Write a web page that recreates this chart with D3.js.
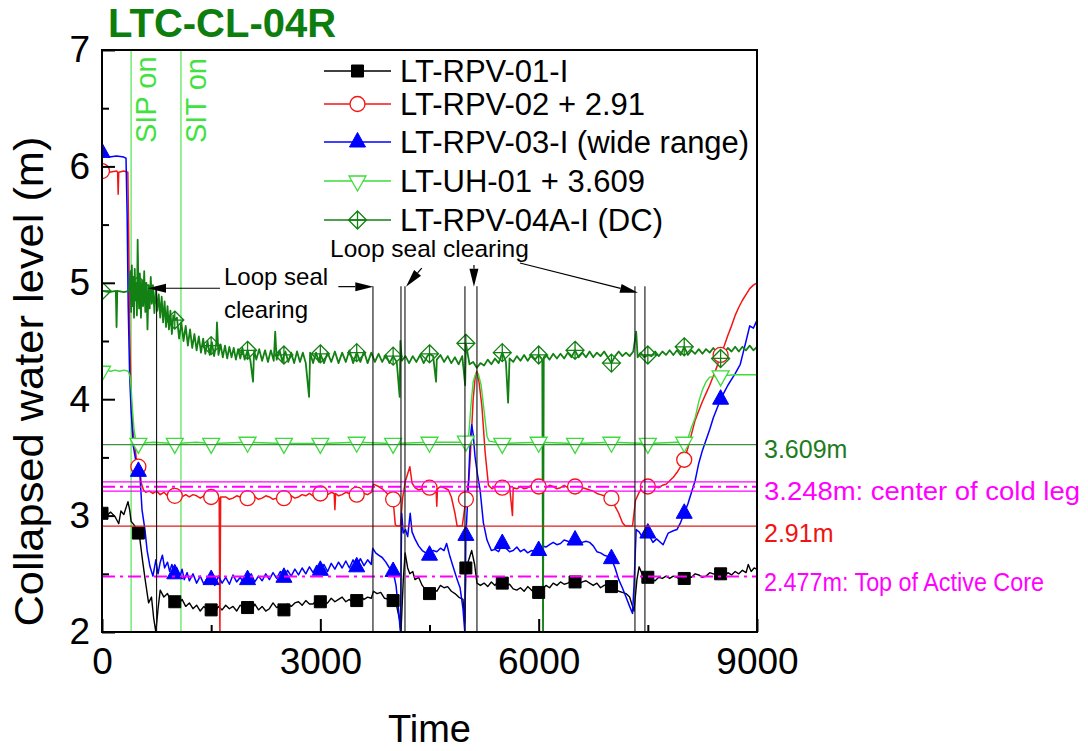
<!DOCTYPE html>
<html>
<head>
<meta charset="utf-8">
<script src="https://cdn.jsdelivr.net/npm/d3@7"></script>
<style>
  body { margin: 0; background: #fff; }
  text { font-family: "Liberation Sans", Arial, sans-serif; }
</style>
</head>
<body>
<svg id="chart" width="1088" height="751"></svg>
<script>
// ---- data: [time (s), collapsed water level (m)] ----
const rpv01 = [[0,3.02],[60,3.00],[120,3.03],[180,2.99],[230,2.93],[260,3.04],[300,3.01],[357,3.12],[380,3.05],[400,2.95],[440,2.92],[480,2.88],[500,2.85],[520,2.80],[560,2.60],[600,2.42],[640,2.25],[680,2.30],[710,2.12],[740,2.00],[770,2.20],[800,2.36],[850,2.30],[900,2.33],[950,2.26],[1000,2.26],[1050,2.24],[1100,2.28],[1150,2.22],[1200,2.25],[1250,2.20],[1300,2.23],[1350,2.18],[1400,2.22],[1450,2.19],[1500,2.19],[1550,2.17],[1600,2.22],[1650,2.19],[1700,2.23],[1750,2.20],[1800,2.22],[1850,2.18],[1900,2.23],[1950,2.21],[2000,2.21],[2050,2.18],[2100,2.24],[2150,2.19],[2200,2.22],[2250,2.18],[2300,2.20],[2350,2.25],[2400,2.21],[2450,2.23],[2500,2.19],[2550,2.24],[2600,2.22],[2650,2.25],[2700,2.26],[2750,2.23],[2800,2.27],[2850,2.24],[2900,2.24],[2950,2.28],[3000,2.26],[3050,2.23],[3100,2.25],[3150,2.29],[3200,2.26],[3250,2.28],[3300,2.30],[3350,2.26],[3400,2.28],[3450,2.25],[3500,2.27],[3550,2.31],[3600,2.28],[3650,2.30],[3700,2.29],[3730,2.35],[3780,2.33],[3830,2.34],[3880,2.29],[3950,2.28],[4000,2.27],[4050,2.22],[4090,2.10],[4108,2.00],[4140,2.45],[4165,2.68],[4200,2.55],[4230,2.50],[4270,2.52],[4300,2.45],[4350,2.47],[4400,2.40],[4450,2.36],[4500,2.33],[4550,2.37],[4600,2.35],[4650,2.40],[4700,2.38],[4750,2.39],[4800,2.35],[4850,2.33],[4900,2.30],[4960,2.28],[4985,2.08],[5000,2.55],[5040,2.62],[5080,2.70],[5120,2.58],[5152,2.42],[5200,2.40],[5250,2.42],[5300,2.39],[5350,2.43],[5400,2.40],[5450,2.44],[5500,2.42],[5550,2.40],[5600,2.41],[5650,2.37],[5700,2.36],[5750,2.38],[5800,2.35],[5850,2.39],[5900,2.36],[5950,2.33],[6000,2.34],[6050,2.37],[6100,2.40],[6150,2.38],[6200,2.42],[6250,2.40],[6300,2.43],[6350,2.41],[6400,2.42],[6450,2.44],[6500,2.43],[6550,2.41],[6600,2.43],[6650,2.44],[6700,2.42],[6750,2.40],[6800,2.42],[6850,2.38],[6900,2.40],[6950,2.41],[7000,2.39],[7050,2.37],[7100,2.35],[7150,2.34],[7200,2.33],[7250,2.30],[7290,2.22],[7310,2.18],[7350,2.45],[7380,2.56],[7420,2.50],[7460,2.48],[7500,2.47],[7550,2.45],[7600,2.44],[7650,2.47],[7700,2.46],[7750,2.48],[7800,2.46],[7850,2.48],[7900,2.47],[7950,2.45],[8000,2.46],[8050,2.48],[8100,2.47],[8150,2.50],[8200,2.49],[8250,2.47],[8300,2.48],[8350,2.51],[8400,2.50],[8450,2.49],[8500,2.50],[8550,2.48],[8600,2.51],[8650,2.49],[8700,2.52],[8750,2.50],[8800,2.53],[8850,2.51],[8880,2.58],[8920,2.52],[8960,2.55],[9000,2.54]];

const rpv02 = [[0,5.96],[100,5.95],[200,5.96],[215,5.95],[222,5.76],[230,5.95],[300,5.96],[355,5.95],[365,5.50],[380,4.60],[400,4.00],[430,3.70],[470,3.50],[500,3.42],[520,3.40],[540,3.28],[570,3.22],[600,3.20],[650,3.21],[700,3.19],[750,3.21],[800,3.18],[850,3.20],[900,3.17],[950,3.19],[1000,3.17],[1050,3.18],[1100,3.16],[1150,3.18],[1200,3.16],[1250,3.18],[1300,3.17],[1350,3.15],[1400,3.17],[1450,3.15],[1500,3.16],[1560,3.17],[1610,3.15],[1620,2.00],[1630,3.16],[1700,3.16],[1750,3.14],[1800,3.15],[1850,3.17],[1900,3.16],[1950,3.14],[2000,3.15],[2050,3.17],[2100,3.16],[2150,3.14],[2200,3.15],[2250,3.17],[2300,3.16],[2350,3.14],[2400,3.15],[2450,3.17],[2500,3.15],[2550,3.16],[2600,3.17],[2650,3.15],[2700,3.16],[2750,3.18],[2800,3.17],[2850,3.19],[2900,3.17],[2950,3.18],[3000,3.19],[3050,3.17],[3100,3.18],[3150,3.20],[3190,3.19],[3200,3.05],[3210,3.19],[3250,3.17],[3300,3.18],[3350,3.20],[3400,3.19],[3450,3.17],[3500,3.18],[3550,3.20],[3600,3.19],[3650,3.18],[3700,3.20],[3730,3.27],[3800,3.25],[3850,3.23],[3900,3.20],[3950,3.17],[4000,3.14],[4030,2.92],[4060,2.91],[4100,2.91],[4130,3.15],[4170,3.30],[4230,3.42],[4260,3.28],[4300,3.24],[4350,3.22],[4400,3.23],[4450,3.25],[4500,3.24],[4550,3.22],[4590,3.23],[4600,3.08],[4610,3.23],[4650,3.25],[4700,3.24],[4760,3.22],[4800,3.16],[4850,3.02],[4880,2.91],[4950,2.91],[5000,3.14],[5040,3.30],[5060,3.50],[5100,4.00],[5130,4.20],[5150,4.24],[5180,4.15],[5220,3.94],[5265,3.54],[5310,3.26],[5360,3.23],[5400,3.25],[5450,3.23],[5500,3.24],[5550,3.22],[5600,3.25],[5640,3.00],[5650,3.24],[5700,3.23],[5750,3.25],[5800,3.23],[5850,3.24],[5900,3.26],[5950,3.24],[6000,3.25],[6050,3.23],[6100,3.24],[6150,3.26],[6200,3.25],[6250,3.23],[6300,3.24],[6350,3.26],[6400,3.24],[6450,3.25],[6500,3.25],[6550,3.23],[6600,3.24],[6650,3.23],[6700,3.22],[6750,3.21],[6800,3.19],[6850,3.18],[6900,3.17],[7000,3.15],[7050,3.08],[7100,3.02],[7150,2.94],[7190,2.91],[7290,2.91],[7330,3.13],[7380,3.20],[7420,3.24],[7460,3.23],[7500,3.25],[7550,3.24],[7600,3.25],[7650,3.24],[7700,3.26],[7750,3.27],[7800,3.30],[7850,3.33],[7900,3.37],[7950,3.42],[8000,3.48],[8050,3.58],[8100,3.70],[8150,3.82],[8200,3.90],[8250,3.98],[8300,4.05],[8350,4.12],[8400,4.20],[8450,4.28],[8500,4.38],[8550,4.46],[8600,4.55],[8650,4.63],[8700,4.72],[8750,4.79],[8800,4.85],[8850,4.90],[8900,4.95],[8950,4.98],[9000,5.00]];

const rpv03 = [[0,6.12],[100,6.08],[200,6.09],[300,6.08],[330,6.07],[345,5.60],[360,4.80],[380,4.20],[400,3.90],[430,3.60],[470,3.45],[500,3.38],[520,3.36],[550,3.05],[590,2.88],[620,2.70],[660,2.56],[700,2.48],[740,2.62],[770,2.50],[800,2.60],[830,2.66],[860,2.55],[900,2.60],[930,2.52],[960,2.58],[1000,2.50],[1030,2.55],[1070,2.47],[1100,2.54],[1130,2.45],[1170,2.51],[1200,2.44],[1250,2.50],[1300,2.42],[1350,2.48],[1400,2.41],[1450,2.47],[1500,2.45],[1550,2.40],[1600,2.48],[1650,2.42],[1700,2.47],[1750,2.41],[1800,2.49],[1850,2.43],[1900,2.47],[1950,2.42],[2000,2.45],[2050,2.50],[2100,2.43],[2150,2.48],[2200,2.44],[2250,2.50],[2300,2.45],[2350,2.51],[2400,2.46],[2450,2.52],[2500,2.47],[2550,2.53],[2600,2.48],[2650,2.54],[2700,2.49],[2750,2.55],[2800,2.50],[2850,2.56],[2900,2.51],[2950,2.57],[3000,2.53],[3050,2.58],[3100,2.52],[3150,2.59],[3200,2.54],[3250,2.60],[3300,2.55],[3350,2.61],[3400,2.55],[3450,2.62],[3500,2.56],[3550,2.63],[3600,2.57],[3650,2.62],[3700,2.58],[3720,2.72],[3760,2.68],[3800,2.66],[3850,2.64],[3900,2.60],[3950,2.55],[4000,2.52],[4040,2.40],[4080,2.15],[4100,2.00],[4118,3.02],[4140,2.85],[4170,2.88],[4200,2.82],[4235,3.02],[4260,2.86],[4300,2.80],[4350,2.74],[4400,2.70],[4450,2.68],[4500,2.66],[4550,2.70],[4600,2.69],[4650,2.72],[4700,2.70],[4735,2.76],[4780,2.65],[4830,2.55],[4880,2.45],[4920,2.38],[4960,2.20],[4985,2.00],[5000,2.83],[5030,3.20],[5060,3.65],[5080,3.78],[5100,3.70],[5125,3.51],[5160,3.35],[5195,3.22],[5240,2.94],[5290,2.79],[5350,2.70],[5400,2.71],[5450,2.69],[5500,2.76],[5550,2.72],[5600,2.69],[5650,2.70],[5700,2.73],[5750,2.69],[5800,2.71],[5850,2.68],[5900,2.70],[5950,2.69],[6000,2.70],[6050,2.74],[6100,2.73],[6150,2.75],[6200,2.77],[6250,2.75],[6300,2.76],[6350,2.79],[6400,2.78],[6450,2.76],[6500,2.79],[6550,2.78],[6600,2.77],[6650,2.78],[6700,2.77],[6750,2.74],[6800,2.69],[6850,2.68],[6900,2.66],[6950,2.65],[7000,2.63],[7050,2.55],[7100,2.45],[7150,2.38],[7200,2.30],[7250,2.22],[7290,2.16],[7310,2.40],[7340,2.88],[7380,2.86],[7420,2.82],[7460,2.87],[7500,2.85],[7570,2.77],[7620,2.80],[7710,2.75],[7780,2.85],[7850,2.87],[7900,2.88],[7950,2.94],[8000,3.02],[8050,3.10],[8100,3.20],[8150,3.30],[8200,3.45],[8250,3.56],[8300,3.65],[8350,3.74],[8400,3.84],[8450,3.92],[8500,4.00],[8550,4.06],[8600,4.12],[8650,4.17],[8700,4.22],[8770,4.30],[8810,4.40],[8850,4.50],[8900,4.63],[8950,4.61],[9000,4.68]];

const uh01 = [[0,4.24],[60,4.25],[120,4.24],[180,4.25],[245,4.24],[300,4.25],[360,4.24],[385,4.20],[400,4.10],[420,3.90],[440,3.74],[460,3.66],[480,3.63],[500,3.62],[700,3.63],[1000,3.62],[1300,3.63],[1500,3.62],[2000,3.63],[2500,3.62],[3000,3.62],[3500,3.63],[4000,3.62],[4500,3.63],[4950,3.63],[5000,3.64],[5040,3.70],[5070,3.95],[5100,4.15],[5130,4.21],[5170,4.22],[5210,4.12],[5250,3.90],[5290,3.68],[5320,3.64],[5500,3.62],[6000,3.63],[6500,3.62],[7000,3.63],[7500,3.62],[7900,3.63],[8000,3.63],[8050,3.66],[8100,3.76],[8150,3.84],[8200,3.98],[8250,4.08],[8300,4.15],[8350,4.19],[8500,4.20],[8700,4.21],[9000,4.21]];

const rpv04a = [[0,4.93],[100,4.92],[190,4.93],[200,4.62],[210,4.93],[300,4.92],[370,4.93],[390,5.10],[400,4.75],[410,5.15],[420,4.80],[430,5.05],[440,4.70],[450,5.12],[460,4.85],[470,5.00],[480,4.72],[490,5.37],[500,4.98],[510,4.78],[520,5.08],[535,4.70],[550,5.02],[565,4.80],[580,5.10],[595,4.75],[610,5.00],[625,4.60],[640,4.98],[655,4.78],[670,5.05],[685,4.82],[700,4.98],[720,4.74],[740,4.95],[760,4.76],[780,4.90],[800,4.70],[820,4.88],[840,4.66],[860,4.84],[880,4.62],[900,4.80],[920,4.60],[940,4.76],[960,4.56],[980,4.72],[1000,4.68],[1030,4.70],[1060,4.52],[1090,4.66],[1120,4.50],[1150,4.63],[1180,4.46],[1210,4.60],[1240,4.44],[1270,4.56],[1300,4.42],[1330,4.54],[1360,4.40],[1390,4.52],[1420,4.39],[1450,4.50],[1480,4.38],[1500,4.46],[1510,4.49],[1540,4.37],[1570,4.48],[1580,4.66],[1600,4.38],[1630,4.47],[1660,4.36],[1690,4.46],[1720,4.35],[1750,4.45],[1780,4.36],[1810,4.44],[1840,4.34],[1870,4.43],[1900,4.35],[1930,4.44],[1960,4.34],[2000,4.42],[2040,4.33],[2075,4.15],[2090,4.42],[2120,4.34],[2160,4.43],[2200,4.33],[2240,4.42],[2280,4.32],[2320,4.42],[2360,4.33],[2380,4.58],[2400,4.34],[2440,4.42],[2480,4.32],[2500,4.38],[2520,4.41],[2560,4.32],[2600,4.40],[2640,4.31],[2680,4.41],[2720,4.32],[2760,4.40],[2800,4.31],[2845,4.02],[2860,4.40],[2900,4.31],[2940,4.40],[2980,4.32],[3000,4.39],[3050,4.31],[3100,4.40],[3150,4.32],[3200,4.41],[3250,4.31],[3300,4.40],[3350,4.32],[3400,4.42],[3450,4.31],[3500,4.40],[3550,4.32],[3600,4.41],[3650,4.31],[3700,4.40],[3750,4.32],[3800,4.39],[3850,4.32],[3900,4.38],[3950,4.31],[4000,4.37],[4050,4.32],[4090,4.02],[4100,4.50],[4120,4.33],[4170,4.37],[4220,4.31],[4270,4.37],[4320,4.32],[4370,4.38],[4420,4.31],[4470,4.37],[4500,4.39],[4550,4.37],[4590,4.15],[4600,4.34],[4650,4.38],[4700,4.32],[4750,4.37],[4800,4.31],[4850,4.36],[4900,4.30],[4950,4.37],[4990,4.12],[5000,4.48],[5050,4.30],[5100,4.32],[5150,4.27],[5200,4.31],[5250,4.29],[5300,4.34],[5350,4.30],[5400,4.35],[5450,4.31],[5500,4.40],[5550,4.32],[5580,3.97],[5600,4.35],[5650,4.32],[5700,4.37],[5750,4.33],[5800,4.38],[5850,4.33],[5900,4.38],[5950,4.34],[6000,4.38],[6050,4.34],[6060,2.00],[6070,4.36],[6100,4.38],[6150,4.34],[6200,4.39],[6250,4.35],[6300,4.39],[6350,4.35],[6400,4.40],[6450,4.36],[6500,4.42],[6550,4.36],[6600,4.40],[6650,4.36],[6700,4.41],[6750,4.36],[6800,4.40],[6850,4.37],[6900,4.41],[6950,4.36],[7000,4.31],[7050,4.37],[7100,4.41],[7150,4.37],[7200,4.40],[7250,4.37],[7300,4.41],[7340,4.58],[7360,4.36],[7400,4.40],[7450,4.36],[7500,4.38],[7550,4.37],[7600,4.41],[7650,4.37],[7700,4.41],[7750,4.38],[7800,4.42],[7850,4.38],[7900,4.42],[7950,4.38],[8000,4.45],[8050,4.38],[8100,4.42],[8150,4.39],[8200,4.43],[8250,4.39],[8300,4.43],[8350,4.40],[8400,4.44],[8450,4.40],[8500,4.35],[8550,4.40],[8600,4.44],[8650,4.41],[8700,4.45],[8750,4.41],[8800,4.45],[8850,4.42],[8900,4.46],[8950,4.42],[9000,4.45]];

const seriesNames = ["LT-RPV-01-I", "LT-RPV-02 + 2.91", "LT-RPV-03-I (wide range)", "LT-UH-01 + 3.609", "LT-RPV-04A-I (DC)"];
const markerTimes = [0,500,1000,1500,2000,2500,3000,3500,4000,4500,5000,5500,6000,6500,7000,7500,8000,8500];

// reference levels
const refLevels = [3.609, 3.248, 2.91, 2.477];
const coldLegBand = [3.29, 3.21];
const refLabels = ["3.609m", "3.248m: center of cold leg", "2.91m", "2.477m: Top of Active Core"];

// events
const injectionTimes = [400, 1085];
const injectionLabels = ["SIP on", "SIT on"];
const clearingTimes = [750, 3723, 4108, 4163, 4987, 5152, 7323, 7460];
const clearingTop = 4.97;
// arrows: [fromTime, fromLevel, toTime, toLevel]
const arrows = [[1622,4.953,632,4.953],[3248,4.967,3728,4.967],[4393,5.127,4177,4.966],[5111,5.153,5111,4.966],[5743,5.170,7365,4.915]];

const xTicks = [0, 3000, 6000, 9000];
const xMinorTicks = [1500, 4500, 7500];
const yTicks = [2, 3, 4, 5, 6, 7];
const yMinorTicks = [2.5, 3.5, 4.5, 5.5, 6.5];

// ---- setup ----
const svg = d3.select("#chart");
const pL = 102, pR = 757, pT = 50, pB = 632;
const x = d3.scaleLinear().domain([0, 9000]).range([pL, pR]);
const y = d3.scaleLinear().domain([2, 7]).range([pB, pT]);

const colors = ["#000000", "#f41414", "#0000ff", "#3ddc3d", "#138013"];
const markerTypes = ["square", "circle", "triUp", "triDown", "diamond"];
const magenta = "#ff00ff";

svg.append("defs").append("clipPath").attr("id", "plotclip")
  .append("rect").attr("x", pL).attr("y", pT).attr("width", pR - pL).attr("height", pB - pT);

function markerPath(type) {
  switch (type) {
    case "square": return "M-6,-6H6V6H-6Z";
    case "circle": return "M-7.5,0A7.5,7.5 0 1,0 7.5,0A7.5,7.5 0 1,0 -7.5,0Z";
    case "triUp": return "M0,-9.5L8,5L-8,5Z";
    case "triDown": return "M0,10L8.5,-5L-8.5,-5Z";
    case "diamond": return "M0,-9L9,0L0,9L-9,0ZM0,-9V9M-9,0H9";
  }
}
function markerStyle(sel, i) {
  const t = markerTypes[i];
  if (t === "square" || t === "triUp") sel.attr("fill", colors[i]).attr("stroke", colors[i]).attr("stroke-width", 1);
  else if (t === "circle" || t === "triDown") sel.attr("fill", "#fff").attr("stroke", colors[i]).attr("stroke-width", 1.3);
  else sel.attr("fill", "none").attr("stroke", colors[i]).attr("stroke-width", 1.3);
}

const bis = d3.bisector(d => d[0]).left;
function nearest(data, t) {
  const i = bis(data, t);
  if (i <= 0) return data[0];
  if (i >= data.length) return data[data.length - 1];
  return (t - data[i - 1][0] < data[i][0] - t) ? data[i - 1] : data[i];
}

const plot = svg.append("g").attr("clip-path", "url(#plotclip)");

// injection lines
plot.selectAll(".inj").data(injectionTimes).join("line")
  .attr("x1", d => x(d)).attr("x2", d => x(d)).attr("y1", pT).attr("y2", pB)
  .attr("stroke", "#5fe85f").attr("stroke-width", 1.3);

// series
const allSeries = [rpv01, rpv02, rpv03, uh01, rpv04a];
const seriesWidth = [1.4, 1.5, 1.5, 1.4, 1.8];
const line = d3.line().x(d => x(d[0])).y(d => y(d[1]));
allSeries.forEach((data, i) => {
  plot.append("path").datum(data)
    .attr("fill", "none").attr("stroke", colors[i]).attr("stroke-width", seriesWidth[i])
    .attr("stroke-linejoin", "round").attr("d", line);
});
allSeries.forEach((data, i) => {
  plot.append("g").selectAll("path").data(markerTimes.map(t => nearest(data, t))).join("path")
    .attr("transform", d => `translate(${x(d[0])},${y(d[1])})`)
    .attr("d", markerPath(markerTypes[i]))
    .call(markerStyle, i);
});

// reference lines
plot.append("line").attr("x1", pL).attr("x2", pR).attr("y1", y(refLevels[0])).attr("y2", y(refLevels[0]))
  .attr("stroke", "#3f8f3f").attr("stroke-width", 1.2);
plot.selectAll(".band").data(coldLegBand).join("line")
  .attr("x1", pL).attr("x2", pR).attr("y1", d => y(d)).attr("y2", d => y(d))
  .attr("stroke", magenta).attr("stroke-width", 1.1);
plot.append("line").attr("x1", pL).attr("x2", pR).attr("y1", y(refLevels[1])).attr("y2", y(refLevels[1]))
  .attr("stroke", magenta).attr("stroke-width", 2.2).attr("stroke-dasharray", "13,5,3,5");
plot.append("line").attr("x1", pL).attr("x2", pR).attr("y1", y(refLevels[2])).attr("y2", y(refLevels[2]))
  .attr("stroke", "#e01c1c").attr("stroke-width", 1.2);
plot.append("line").attr("x1", pL).attr("x2", pR).attr("y1", y(refLevels[3])).attr("y2", y(refLevels[3]))
  .attr("stroke", magenta).attr("stroke-width", 2.2).attr("stroke-dasharray", "13,5,3,5");

// loop seal clearing lines
plot.selectAll(".clr").data(clearingTimes).join("line")
  .attr("x1", d => x(d)).attr("x2", d => x(d)).attr("y1", y(clearingTop)).attr("y2", pB)
  .attr("stroke", "#111").attr("stroke-width", 1.1);

// arrows
arrows.forEach(a => {
  const x1 = x(a[0]), y1 = y(a[1]), x2 = x(a[2]), y2 = y(a[3]);
  const ang = Math.atan2(y2 - y1, x2 - x1);
  const len = 18, hw = 4.5;
  const bx = x2 - len * Math.cos(ang), by = y2 - len * Math.sin(ang);
  svg.append("line").attr("x1", x1).attr("y1", y1).attr("x2", bx).attr("y2", by)
    .attr("stroke", "#000").attr("stroke-width", 1.2);
  svg.append("path")
    .attr("d", `M${x2},${y2}L${bx + hw * Math.sin(ang)},${by - hw * Math.cos(ang)}L${bx - hw * Math.sin(ang)},${by + hw * Math.cos(ang)}Z`)
    .attr("fill", "#000");
});

// annotation texts
svg.append("text").attr("x", 224).attr("y", 285).attr("font-size", 24).text("Loop seal");
svg.append("text").attr("x", 224).attr("y", 318).attr("font-size", 24).text("clearing");
svg.append("text").attr("x", 330).attr("y", 257).attr("font-size", 24.5).text("Loop seal clearing");

injectionLabels.forEach((s, i) => {
  svg.append("text")
    .attr("transform", `translate(${x(injectionTimes[i]) + 25},143) rotate(-90)`)
    .attr("font-size", 29).attr("fill", "#3fe23f").text(s);
});

// right labels
const refLabelY = [449, 491, 533, 582];
const refLabelColors = ["#1e7b1e", magenta, "#ee1414", magenta];
refLabels.forEach((s, i) => {
  const t = svg.append("text").attr("x", 764).attr("y", refLabelY[i]).attr("dy", "0.36em")
    .attr("font-size", 25).attr("fill", refLabelColors[i]).text(s);
  if (i === 1) t.attr("textLength", 316).attr("lengthAdjust", "spacingAndGlyphs");
  if (i === 3) t.attr("textLength", 280).attr("lengthAdjust", "spacingAndGlyphs");
});

// legend
const legendY = [71, 104, 142, 181, 220];
const legend = svg.append("g");
seriesNames.forEach((name, i) => {
  legend.append("line").attr("x1", 324).attr("x2", 391).attr("y1", legendY[i]).attr("y2", legendY[i])
    .attr("stroke", colors[i]).attr("stroke-width", 1.4);
  legend.append("path").attr("transform", `translate(357.5,${legendY[i]})`)
    .attr("d", markerPath(markerTypes[i])).call(markerStyle, i);
  legend.append("text").attr("x", 400).attr("y", legendY[i]).attr("dy", "0.36em")
    .attr("font-size", 31).text(name);
});

// axes
function styleAxis(g, size) {
  g.select(".domain").remove();
  g.selectAll(".tick line").attr("stroke", "#000").attr("stroke-width", 2);
  g.attr("font-size", size).attr("font-family", '"Liberation Sans", Arial, sans-serif');
  g.selectAll("text").attr("fill", "#000");
}
svg.append("g").attr("transform", `translate(0,${pB})`)
  .call(d3.axisBottom(x).tickValues(xTicks).tickSizeInner(-13).tickSizeOuter(0).tickPadding(16).tickFormat(d3.format("d")))
  .call(styleAxis, 37);
svg.append("g").attr("transform", `translate(0,${pB})`)
  .call(d3.axisBottom(x).tickValues(xMinorTicks).tickSizeInner(-7).tickSizeOuter(0).tickFormat(""))
  .call(styleAxis, 37);
svg.append("g").attr("transform", `translate(${pL},0)`)
  .call(d3.axisLeft(y).tickValues(yTicks).tickSizeInner(-13).tickSizeOuter(0).tickPadding(12).tickFormat(d3.format("d")))
  .call(styleAxis, 37);
svg.append("g").attr("transform", `translate(${pL},0)`)
  .call(d3.axisLeft(y).tickValues(yMinorTicks).tickSizeInner(-7).tickSizeOuter(0).tickFormat(""))
  .call(styleAxis, 37);

// frame
svg.append("rect").attr("x", pL).attr("y", pT).attr("width", pR - pL).attr("height", pB - pT)
  .attr("fill", "none").attr("stroke", "#000").attr("stroke-width", 2);

// titles
svg.append("text").attr("x", 108).attr("y", 37).attr("font-size", 40).attr("font-weight", "bold")
  .attr("fill", "#0d7d0d").text("LTC-CL-04R");
svg.append("text").attr("x", (pL + pR) / 2).attr("y", 742).attr("text-anchor", "middle")
  .attr("font-size", 38).text("Time");
svg.append("text").attr("transform", `translate(43,${(135 + 628) / 2}) rotate(-90)`).attr("text-anchor", "middle")
  .attr("font-size", 41).attr("textLength", 490).attr("lengthAdjust", "spacingAndGlyphs")
  .text("Collapsed water level (m)");
</script>
</body>
</html>
